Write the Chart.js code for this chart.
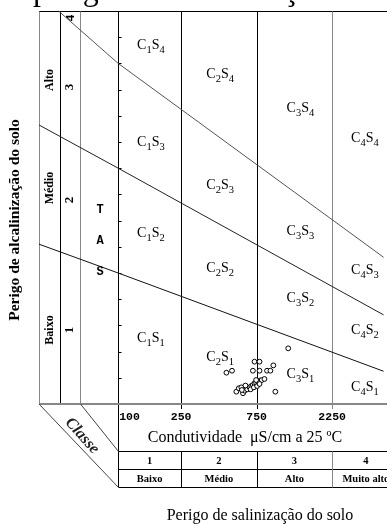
<!DOCTYPE html>
<html>
<head>
<meta charset="utf-8">
<script src="https://cdn.jsdelivr.net/npm/chart.js@4"></script>
<style>
html,body{margin:0;padding:0;background:#fff;overflow:hidden;}
canvas{display:block;}
</style>
</head>
<body>
<canvas id="c" width="387" height="524"></canvas>
<script>
// ---- data ----
const ecValues  = [1187, 727, 782, 710, 782, 872, 916, 956, 483, 524, 984,
                   558, 578, 600, 615, 630, 654, 677, 693, 710, 727, 744, 763, 782, 808, 840,
                   687, 720, 755, 782, 744, 637, 605];
const sarValues = [4.25, 3.23, 3.23, 2.54, 2.54, 2.54, 2.54, 2.95, 2.39, 2.54, 0.94,
                   0.94, 1.20, 1.27, 0.82, 1.02, 1.12, 1.27, 1.37, 1.45, 1.58, 1.63, 1.70, 1.78, 1.83, 1.91,
                   1.12, 1.27, 1.37, 1.53, 1.83, 1.41, 1.07];

const lineS1S2EC  = [31.6, 100, 4755];
const lineS1S2SAR = [12.2, 10.0, 2.5];
const lineS2S3EC  = [31.6, 100, 4755];
const lineS2S3SAR = [21.3, 18.0, 6.8];
const lineS3S4EC  = [42, 100, 4755];
const lineS3S4SAR = [30.0, 26.0, 11.2];

const xTickValues = [100, 250, 750, 2250];
const xTickLabels = ['100', '250', '750', '2250'];
const sarTicks    = [2, 4, 6, 8, 10, 12, 14, 16, 18, 20, 22, 24, 26, 28];

const salBounds  = [100, 250, 750, 2250, 6000];
const salClasses = ['1', '2', '3', '4'];
const salNames   = ['Baixo', 'Médio', 'Alto', 'Muito alto'];
const alkNames   = ['Baixo', 'Médio', 'Alto'];
const alkClasses = ['1', '2', '3', '4'];

const regionC   = [1, 2, 3, 4, 1, 2, 3, 4, 1, 2, 3, 4, 1, 2, 3, 4];
const regionS   = [4, 4, 4, 4, 3, 3, 3, 3, 2, 2, 2, 2, 1, 1, 1, 1];
const regionEC  = [161, 441, 1417, 3620, 161, 441, 1417, 3620, 161, 441, 1417, 3620, 161, 441, 1417, 3620];
const regionSAR = [27.4, 25.2, 22.6, 20.3, 20.0, 16.7, 13.2, 10.2, 13.05, 10.4, 8.1, 5.65, 5.04, 3.6, 2.3, 1.3];

// ---- helpers ----
const SERIF = '"Liberation Serif", "Times New Roman", serif';
function toXY(xs, ys) { return xs.map((v, i) => ({x: v, y: ys[i]})); }

const deco = {
  id: 'deco',
  beforeDraw(chart) {
    const ctx = chart.ctx;
    ctx.save();
    ctx.fillStyle = '#fff';
    ctx.fillRect(0, 0, chart.width, chart.height);
    ctx.restore();
  },
  beforeDatasetsDraw(chart) {
    const ctx = chart.ctx, xs = chart.scales.x, ys = chart.scales.y, a = chart.chartArea;
    const L = a.left, T = a.top, B = a.bottom, R = chart.width;
    function ln(x1, y1, x2, y2, col, w) {
      ctx.beginPath(); ctx.strokeStyle = col; ctx.lineWidth = w || 1;
      ctx.moveTo(x1, y1); ctx.lineTo(x2, y2); ctx.stroke();
    }
    ctx.save();
    const top = Math.round(T) + 0.5, bot = Math.round(B);
    ln(L, top, R, top, '#000');
    ln(Math.round(L) + 0.5, top, Math.round(L) + 0.5, bot, '#888');
    ln(60.5, top, 60.5, bot, '#000');
    ln(80.5, top, 80.5, bot, '#888');
    const gx = xTickValues.map(v => Math.round(xs.getPixelForValue(v)) + 0.5);
    gx.forEach((x, i) => {
      const col = i === 3 ? '#888' : '#000';
      ln(x, top, x, i === 0 ? 487 : bot + 5, col);
    });
    sarTicks.forEach(s => {
      const y = Math.round(ys.getPixelForValue(s)) + 0.5;
      ln(gx[0], y, gx[0] + 3, y, '#000');
    });
    ln(L, bot, R, bot, '#888', 2);
    [451.5, 469.5, 487.5].forEach(y => ln(gx[0], y, R, y, '#000'));
    salBounds.slice(1, 4).forEach((v, i) => {
      const x = Math.round(xs.getPixelForValue(v)) + 0.5;
      ln(x, 451.5, x, 487.5, i === 2 ? '#888' : '#000');
    });
    ln(L, bot, gx[0], 487.5, '#444');
    ln(80.5, bot, gx[0], 451.5, '#444');
    ctx.restore();
  },
  afterDraw(chart) {
    const ctx = chart.ctx, xs = chart.scales.x, ys = chart.scales.y;
    ctx.save();
    ctx.fillStyle = '#000';
    // cropped title at the very top
    ctx.font = '32px ' + SERIF;
    ctx.textBaseline = 'alphabetic';
    ctx.textAlign = 'left';
    const pre = ctx.measureText('o ').width;
    ctx.fillText('o perigo de alcalinização do solo', 33 - pre, 0);

    // region labels
    for (let i = 0; i < regionC.length; i++) {
      const cx = xs.getPixelForValue(regionEC[i]), cy = ys.getPixelForValue(regionSAR[i]);
      const big = '14px ' + SERIF, small = '10.5px ' + SERIF;
      ctx.font = big; const wC = ctx.measureText('C').width, wS = ctx.measureText('S').width;
      ctx.font = small; const w1 = ctx.measureText(String(regionC[i])).width, w2 = ctx.measureText(String(regionS[i])).width;
      let x = cx - (wC + w1 + wS + w2) / 2;
      ctx.textAlign = 'left'; ctx.textBaseline = 'alphabetic';
      ctx.font = big; ctx.fillText('C', x, cy + 4); x += wC;
      ctx.font = small; ctx.fillText(String(regionC[i]), x, cy + 8); x += w1;
      ctx.font = big; ctx.fillText('S', x, cy + 4); x += wS;
      ctx.font = small; ctx.fillText(String(regionS[i]), x, cy + 8);
    }

    // x tick labels
    ctx.font = 'bold 11.5px "Liberation Mono", monospace';
    ctx.textBaseline = 'middle';
    xTickValues.forEach((v, i) => {
      const x = xs.getPixelForValue(v);
      if (i === 0) { ctx.textAlign = 'left'; ctx.fillText(xTickLabels[i], x + 1, 417); }
      else { ctx.textAlign = 'center'; ctx.fillText(xTickLabels[i], x, 417); }
    });
    // axis title
    ctx.font = '16px ' + SERIF;
    ctx.textAlign = 'center';
    ctx.fillText('Condutividade  \u03bcS/cm a 25 \u00baC', 245, 438);
    // table
    ctx.font = 'bold 10.5px ' + SERIF;
    for (let i = 0; i < 4; i++) {
      const x = (xs.getPixelForValue(salBounds[i]) + xs.getPixelForValue(salBounds[i + 1])) / 2;
      ctx.fillText(salClasses[i], x, 461);
      ctx.fillText(salNames[i], x, 479);
    }
    // bottom title
    ctx.font = '16px ' + SERIF;
    ctx.fillText('Perigo de salinização do solo', 260, 516);

    function rot(text, x, y, font) {
      ctx.save(); ctx.translate(x, y); ctx.rotate(-Math.PI / 2);
      ctx.font = font; ctx.textAlign = 'center'; ctx.textBaseline = 'middle';
      ctx.fillText(text, 0, 0); ctx.restore();
    }
    rot('Perigo de alcalinização do solo', 15, 220, 'bold 15.5px ' + SERIF);
    rot(alkNames[2], 50, 80, 'bold 12px ' + SERIF);
    rot(alkNames[1], 50, 188, 'bold 12px ' + SERIF);
    rot(alkNames[0], 50, 330, 'bold 12px ' + SERIF);
    rot(alkClasses[3], 71, 18, 'bold 13px ' + SERIF);
    rot(alkClasses[2], 70, 87, 'bold 13px ' + SERIF);
    rot(alkClasses[1], 70, 200, 'bold 13px ' + SERIF);
    rot(alkClasses[0], 70, 330, 'bold 13px ' + SERIF);
    ctx.font = 'bold 12px "Liberation Mono", monospace';
    ctx.textAlign = 'center'; ctx.textBaseline = 'middle';
    ctx.fillText('T', 100, 210);
    ctx.fillText('A', 100, 241);
    ctx.fillText('S', 100, 272);
    // Classe
    ctx.save();
    ctx.translate(82, 436);
    ctx.rotate(Math.atan2(47, 42));
    ctx.font = 'italic bold 16px ' + SERIF;
    ctx.textAlign = 'center'; ctx.textBaseline = 'middle';
    ctx.fillStyle = '#222';
    ctx.fillText('Classe', 0, 0);
    ctx.restore();
    ctx.restore();
  }
};

const lineStyle = (col) => ({type: 'line', showLine: true, borderColor: col, borderWidth: 1,
  pointRadius: 0, fill: false, tension: 0, clip: false});

new Chart(document.getElementById('c'), {
  type: 'scatter',
  data: {
    datasets: [
      Object.assign({label: 'S1/S2', data: toXY(lineS1S2EC, lineS1S2SAR)}, lineStyle('#111')),
      Object.assign({label: 'S2/S3', data: toXY(lineS2S3EC, lineS2S3SAR)}, lineStyle('#222')),
      Object.assign({label: 'S3/S4', data: toXY(lineS3S4EC, lineS3S4SAR)}, lineStyle('#555')),
      {label: 'Amostras', data: toXY(ecValues, sarValues), pointRadius: 2.4, pointBorderWidth: 1,
       borderColor: '#000', backgroundColor: '#fff', pointHoverRadius: 2.4, clip: false}
    ]
  },
  options: {
    responsive: false,
    devicePixelRatio: 1,
    animation: false,
    layout: {padding: {left: 39, top: 11, right: 0, bottom: 120}},
    plugins: {legend: {display: false}, tooltip: {enabled: false}},
    scales: {
      x: {type: 'logarithmic', min: 31.6, max: 4755, display: false},
      y: {type: 'linear', min: 0, max: 30, display: false}
    },
    events: []
  },
  plugins: [deco]
});
</script>
</body>
</html>
